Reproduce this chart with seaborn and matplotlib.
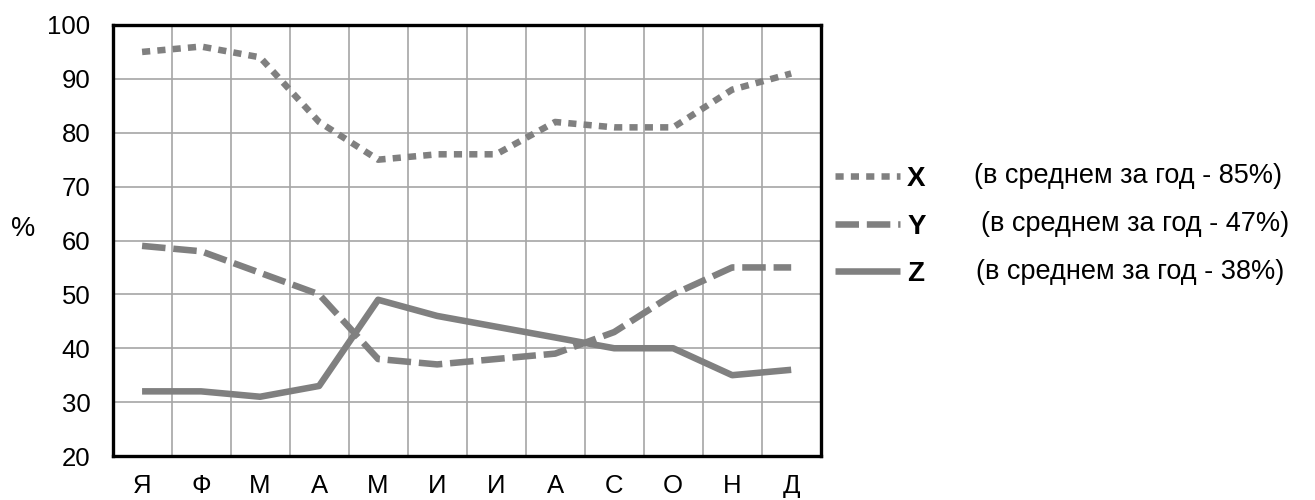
import pandas as pd
import matplotlib
matplotlib.use("Agg")
import matplotlib.pyplot as plt
import seaborn as sns

# data
months = ["Я", "Ф", "М", "А", "М", "И", "И", "А", "С", "О", "Н", "Д"]
x_vals = [95, 96, 94, 82, 75, 76, 76, 82, 81, 81, 88, 91]
y_vals = [59, 58, 54, 50, 38, 37, 38, 39, 43, 50, 55, 55]
z_vals = [32, 32, 31, 33, 49, 46, 44, 42, 40, 40, 35, 36]
series_names = ["X", "Y", "Z"]
series_notes = ["(в среднем за год - 85%)",
                "(в среднем за год - 47%)",
                "(в среднем за год - 38%)"]
y_ticks = [20, 30, 40, 50, 60, 70, 80, 90, 100]

sns.set_style("white")
plt.rcParams["font.family"] = ["Liberation Sans", "DejaVu Sans"]
plt.rcParams["text.color"] = "black"
plt.rcParams["xtick.color"] = "black"
plt.rcParams["ytick.color"] = "black"

# long table for seaborn
pos = list(range(len(months)))
df = pd.DataFrame({
    "pos": pos * 3,
    "value": x_vals + y_vals + z_vals,
    "series": ["X"] * 12 + ["Y"] * 12 + ["Z"] * 12,
})

fig = plt.figure(figsize=(13.15, 5), dpi=100)
ax = fig.add_axes([0.0856, 0.088, 0.5385, 0.862])

grey = "#808080"
lw = 4.7
styles = {"X": (1.25, 1.1), "Y": (3.6, 1.2), "Z": ""}

handles = []
for name in series_names:
    sub = df[df["series"] == name]
    sns.lineplot(data=sub, x="pos", y="value", ax=ax, color=grey,
                 linewidth=lw, legend=False, zorder=3)
    line = ax.lines[-1]
    line.set_solid_capstyle("butt")
    line.set_dash_capstyle("butt")
    line.set_solid_joinstyle("round")
    if styles[name]:
        line.set_dashes(styles[name])
    handles.append(line)

ax.set_xlim(-0.5, 11.5)
ax.set_ylim(20, 100)
ax.set_xticks(pos)
ax.set_xticklabels(months)
ax.set_yticks(y_ticks)
ax.set_xlabel("")
ax.set_ylabel("")

# gridlines on category boundaries
for b in [p + 0.5 for p in pos[:-1]]:
    ax.axvline(b, color="#a6a6a6", linewidth=1.2, zorder=1)
for t in y_ticks[1:-1]:
    ax.axhline(t, color="#a6a6a6", linewidth=1.2, zorder=1)

ax.tick_params(axis="both", length=0, labelsize=18.5, labelcolor="black")
ax.tick_params(axis="y", pad=16)
ax.tick_params(axis="x", pad=13)
for s in ax.spines.values():
    s.set_visible(True)
    s.set_color("black")
    s.set_linewidth(2.4)

fig.text(0.0175, 0.542, "%", fontsize=19.5, ha="center", va="center")

leg = fig.legend(handles, series_names, loc="center left",
                 bbox_to_anchor=(0.635, 0.547), frameon=False,
                 borderpad=0, borderaxespad=0,
                 handlelength=2.35, handletextpad=0.25, labelspacing=0.78,
                 prop={"weight": "bold", "size": 20})
for t in leg.get_texts():
    t.set_color("black")

note_x = [0.741, 0.746, 0.742]
note_y = [0.648, 0.552, 0.456]
for nx, ny, note in zip(note_x, note_y, series_notes):
    fig.text(nx, ny, note, fontsize=19.5, ha="left", va="center")

fig.savefig("out.png", dpi=100)
